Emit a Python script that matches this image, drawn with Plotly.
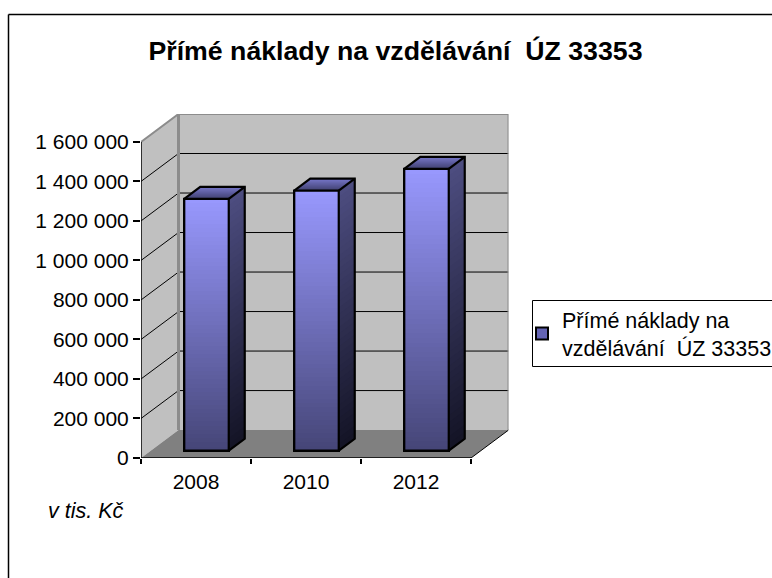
import plotly.graph_objects as go

categories = ["2008", "2010", "2012"]
values = [1275000, 1317000, 1427000]
y_ticks = [0, 200000, 400000, 600000, 800000, 1000000, 1200000, 1400000, 1600000]
y_labels = ["0", "200 000", "400 000", "600 000", "800 000", "1 000 000", "1 200 000", "1 400 000", "1 600 000"]
series_name = "Přímé náklady na<br>vzdělávání  ÚZ 33353"
title = "Přímé náklady na vzdělávání  ÚZ 33353"
unit_note = "v tis. Kč"

FONT = "Liberation Sans"
W, H = 772, 578
PX_X = 110.0           # pixels per category
PX_Y = 317.0 / 1600000  # pixels per value unit
WALL_DX, WALL_DY = 37.5 / PX_X, 28 / PX_Y
BAR_DX, BAR_DY = 16 / PX_X, 12 / PX_Y
BAR_SHIFT_X, BAR_BASE = 10.5 / PX_X, 7.3 / PX_Y
BAR_W = 44.5 / PX_X
X0, X1 = -0.5, 2.5
YMAX = y_ticks[-1]
N = 60


def fx(px):
    return px / W


def fy(px):
    return 1 - px / H


def mix(a, b, t):
    return "rgb(%d,%d,%d)" % tuple(round(a[i] + (b[i] - a[i]) * t) for i in range(3))


FRONT_TOP, FRONT_BOT = (153, 153, 255), (70, 70, 120)
SIDE_TOP, SIDE_BOT = (78, 78, 130), (20, 20, 38)
CAP_BACK, CAP_FRONT = (118, 118, 200), (62, 62, 108)

xs = list(range(len(categories)))
centers = [x + BAR_SHIFT_X for x in xs]
fig = go.Figure()

# legend-bearing series
fig.add_trace(go.Bar(x=centers, y=values, base=[BAR_BASE] * 3, width=BAR_W, name=series_name,
                     marker=dict(color="rgb(100,100,180)", line=dict(color="black", width=2)),
                     showlegend=True, hoverinfo="skip"))
# gradient of the front faces
gx, gy, gb, gc = [], [], [], []
for cx, v in zip(centers, values):
    for i in range(N):
        t = i / N
        gx.append(cx)
        gb.append(BAR_BASE + v * t)
        gy.append(v * (1 - t))
        gc.append(mix(FRONT_BOT, FRONT_TOP, t))
fig.add_trace(go.Bar(x=gx, y=gy, base=gb, width=BAR_W, marker=dict(color=gc, line=dict(width=0)),
                     showlegend=False, hoverinfo="skip"))


def poly(px, py, color):
    fig.add_trace(go.Scatter(x=px, y=py, mode="lines", fill="toself", fillcolor=color,
                             line=dict(width=0), showlegend=False, hoverinfo="skip", cliponaxis=False))


def outline(px, py):
    fig.add_trace(go.Scatter(x=px, y=py, mode="lines", line=dict(color="black", width=2.2),
                             showlegend=False, hoverinfo="skip", cliponaxis=False))


for cx, v in zip(centers, values):
    l, r = cx - BAR_W / 2, cx + BAR_W / 2
    b, t = BAR_BASE, BAR_BASE + v
    # side face, painted bottom to top
    for i in range(40):
        y0 = b + v * i / 40
        poly([r, r + BAR_DX, r + BAR_DX, r, r], [y0, y0 + BAR_DY, t + BAR_DY, t, y0], mix(SIDE_BOT, SIDE_TOP, i / 40))
    # cap, painted back to front
    for i in range(12):
        f = i / 12
        poly([l + BAR_DX * (1 - f), r + BAR_DX * (1 - f), r, l, l + BAR_DX * (1 - f)],
             [t + BAR_DY * (1 - f), t + BAR_DY * (1 - f), t, t, t + BAR_DY * (1 - f)], mix(CAP_BACK, CAP_FRONT, f))
    outline([l, r, r, l, l], [b, b, t, t, b])
    outline([r, r + BAR_DX], [t, t + BAR_DY])
    outline([l, l + BAR_DX, r + BAR_DX, r + BAR_DX, r], [t, t + BAR_DY, t + BAR_DY, b + BAR_DY, b])

shapes = []


def s_path(d, fill=None, color=None, width=0):
    shapes.append(dict(type="path", xref="x", yref="y", layer="below", path=d, fillcolor=fill,
                       line=dict(color=color or "rgba(0,0,0,0)", width=width)))


def pth(pts, close=True):
    return "M" + " L".join("%f,%f" % p for p in pts) + (" Z" if close else "")


bl, br = X0 + WALL_DX, X1 + WALL_DX
top = YMAX + WALL_DY
s_path(pth([(bl, WALL_DY), (br, WALL_DY), (br, top), (bl, top)]), fill="#C0C0C0")
s_path(pth([(X0, 0), (bl, WALL_DY), (bl, top), (X0, YMAX)]), fill="#C0C0C0")
s_path(pth([(X0, 0), (X1, 0), (br, WALL_DY), (bl, WALL_DY)]), fill="#808080")
for v in y_ticks[1:-1]:
    s_path(pth([(X0, v), (bl, v + WALL_DY), (br, v + WALL_DY)], False), color="black", width=1)
s_path(pth([(X0, YMAX), (bl, top), (br, top), (br, WALL_DY)], False), color="#8C8C8C", width=2)
s_path(pth([(bl, WALL_DY), (bl, top)], False), color="#8C8C8C", width=3)
s_path(pth([(X1, 0), (br, WALL_DY)], False), color="black", width=1)
s_path(pth([(X0, YMAX), (X0, 0), (X1, 0)], False), color="black", width=1.5)

# outer frame
for a in [(8.5, 14.5, 8.5, 600), (8.5, 14.5, 800, 14.5)]:
    shapes.append(dict(type="line", xref="paper", yref="paper", x0=fx(a[0]), x1=fx(a[2]),
                       y0=fy(a[1]), y1=fy(a[3]), line=dict(color="black", width=1.5)))
# legend box
shapes.append(dict(type="rect", xref="paper", yref="paper", x0=fx(532.5), x1=fx(790),
                   y0=fy(300.5), y1=fy(366.5), line=dict(color="black", width=1), fillcolor="white", layer="below"))

fig.update_layout(
    width=W, height=H, autosize=False, showlegend=True, bargap=0,
    barmode="overlay", paper_bgcolor="white", plot_bgcolor="rgba(0,0,0,0)",
    margin=dict(l=0, r=0, t=0, b=0, autoexpand=False), font=dict(family=FONT, color="black"),
    title=dict(text="<b>%s</b>" % title, x=fx(395.5), xanchor="center", y=fy(51), yanchor="middle",
               xref="paper", yref="paper", font=dict(size=26.7, family=FONT, color="black")),
    xaxis=dict(domain=[fx(141), fx(508.5)], range=[X0, X1 + WALL_DX], tickmode="array", tickvals=xs,
               ticktext=categories, ticks="", showgrid=False, zeroline=False, showline=False,
               ticklabelstandoff=9, tickfont=dict(size=21, family=FONT), fixedrange=True,
               minor=dict(tickmode="array", tickvals=[-0.5, 0.5, 1.5, 2.5], ticks="outside", ticklen=5,
                          tickwidth=1.5, tickcolor="black", showgrid=False)),
    yaxis=dict(domain=[fy(458), fy(114)], range=[0, YMAX + WALL_DY], tickmode="array", tickvals=y_ticks,
               ticktext=y_labels, ticks="outside", ticklen=7, tickwidth=1.5, tickcolor="black",
               showgrid=False, zeroline=False, showline=False, tickfont=dict(size=21, family=FONT), fixedrange=True),
    legend=dict(x=fx(532), y=fy(333.5), xanchor="left", yanchor="middle", bgcolor="rgba(0,0,0,0)",
                borderwidth=0, indentation=-10, font=dict(size=21.5, family=FONT), itemclick=False, itemdoubleclick=False),
    shapes=shapes,
    annotations=[dict(text="<i>%s</i>" % unit_note, xref="paper", yref="paper", x=fx(46), y=fy(511),
                      xanchor="left", yanchor="middle", showarrow=False, font=dict(size=21.5, family=FONT))],
)
fig.write_html("out.html", config={"displayModeBar": False},
               post_script="document.body.style.margin='0';document.documentElement.style.overflow='hidden';")
